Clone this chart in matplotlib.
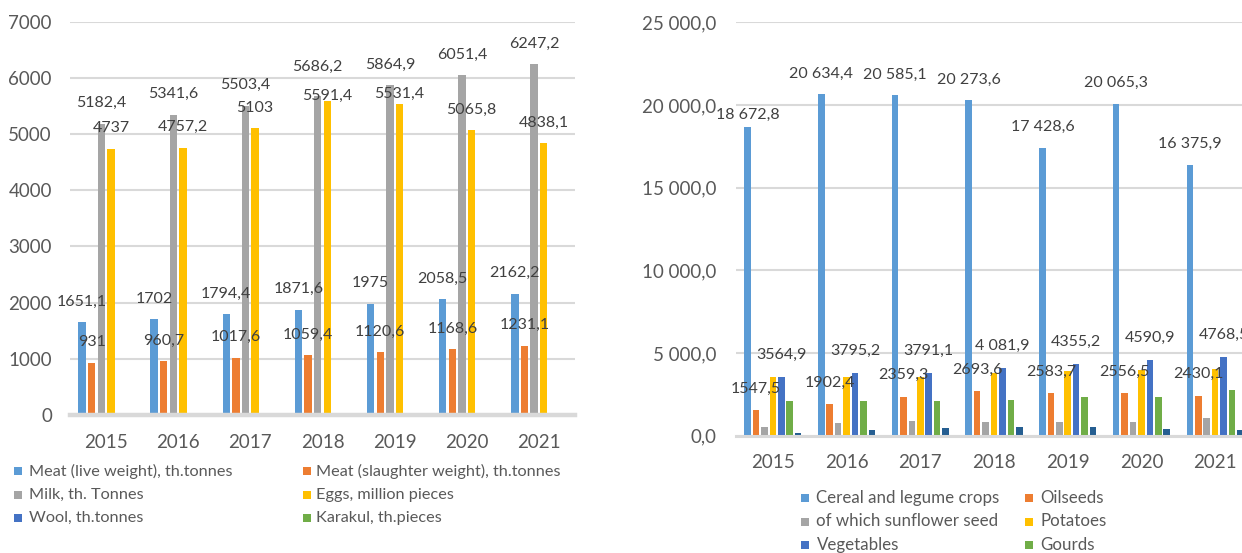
import matplotlib
matplotlib.use("Agg")
import matplotlib.pyplot as plt
from matplotlib.patches import Rectangle
import numpy as np

plt.rcParams['font.family'] = ['Lato', 'DejaVu Sans']

# ---------------- data ----------------
years = ["2015", "2016", "2017", "2018", "2019", "2020", "2021"]

# left chart (livestock)
left_names = ["Meat (live weight), th.tonnes", "Meat (slaughter weight), th.tonnes",
              "Milk, th. Tonnes", "Eggs, million pieces",
              "Wool, th.tonnes", "Karakul, th.pieces"]
meat_live = [1651.1, 1702, 1794.4, 1871.6, 1975, 2058.5, 2162.2]
meat_slaughter = [931, 960.7, 1017.6, 1059.4, 1120.6, 1168.6, 1231.1]
milk = [5182.4, 5341.6, 5503.4, 5686.2, 5864.9, 6051.4, 6247.2]
eggs = [4737, 4757.2, 5103, 5591.4, 5531.4, 5065.8, 4838.1]
wool = [38.3, 38.6, 39.0, 39.5, 40.0, 40.4, 41.4]
karakul = [20, 21, 20, 19, 19, 18, 17]
left_ticks = [0, 1000, 2000, 3000, 4000, 5000, 6000, 7000]

# right chart (crops)
right_names = ["Cereal and legume crops", "Oilseeds", "of which sunflower seed",
               "Potatoes", "Vegetables", "Gourds", "Sugar beet"]
cereal = [18672.8, 20634.4, 20585.1, 20273.6, 17428.6, 20065.3, 16375.9]
oilseeds = [1547.5, 1902.4, 2359.3, 2693.6, 2583.7, 2556.5, 2430.1]
sunflower = [530, 760, 910, 830, 830, 830, 1060]
potatoes = [3540, 3550, 3550, 3800, 3930, 4000, 4010]
vegetables = [3564.9, 3795.2, 3791.1, 4081.9, 4355.2, 4590.9, 4768.5]
gourds = [2080, 2080, 2080, 2160, 2370, 2370, 2760]
sugar_beet = [150, 350, 440, 510, 510, 430, 350]
vegetables_labels = ["3564,9", "3795,2", "3791,1", "4 081,9", "4355,2", "4590,9", "4768,5"]
right_ticks = [0, 5000, 10000, 15000, 20000, 25000]

# ---------------- style ----------------
W, H = 1242, 553
DPI = 100
c_blue = "#5B9BD5"
c_orange = "#ED7D31"
c_gray = "#A5A5A5"
c_yellow = "#FFC000"
c_dblue = "#4472C4"
c_green = "#70AD47"
c_navy = "#255E91"
grid_c = "#D9D9D9"
tick_c = "#595959"
lab_c = "#404040"


def fmt(v, group=False):
    if float(v).is_integer():
        s = f"{int(v):,}" if group else f"{int(v)}"
    else:
        s = f"{v:,.1f}" if group else f"{v:.1f}"
    return s.replace(",", " ").replace(".", ",")


def fmt1(v):
    return f"{v:,.1f}".replace(",", " ").replace(".", ",")


def px_rect(x0, y0, x1, y1):
    return [x0 / W, 1 - y1 / H, (x1 - x0) / W, (y1 - y0) / H]


fig = plt.figure(figsize=(W / DPI, H / DPI), dpi=DPI)

ax1 = fig.add_axes(px_rect(70, 21.7, 575, 415))
ax2 = fig.add_axes(px_rect(736, 22.3, 1252, 435.7))


def style_axis(ax, ticks, ticklabels, ymax, pad_y, spine_lw):
    ax.set_ylim(0, ymax)
    ax.set_xlim(-0.5, 6.5)
    ax.set_yticks(ticks)
    ax.set_yticklabels(ticklabels)
    ax.set_xticks(range(len(years)))
    ax.set_xticklabels(years)
    ax.tick_params(axis='both', length=0, labelsize=13.5, colors=tick_c)
    ax.tick_params(axis='y', pad=pad_y)
    ax.tick_params(axis='x', pad=13.5)
    for s in ["top", "right", "left"]:
        ax.spines[s].set_visible(False)
    ax.spines["bottom"].set_color(grid_c)
    ax.spines["bottom"].set_linewidth(spine_lw)
    ax.spines["bottom"].set_zorder(5)
    ax.grid(axis='y', color=grid_c, linewidth=1.5, zorder=0)
    ax.set_axisbelow(True)


def draw_group(ax, series, colors):
    n = len(series)
    slot = 0.80 / n
    width = slot * 0.77
    x = np.arange(len(years))
    conts = []
    for i, (vals, col) in enumerate(zip(series, colors)):
        off = (i - (n - 1) / 2) * slot
        conts.append(ax.bar(x + off, vals, width=width, color=col, zorder=3))
    return conts


def label_bars(ax, cont, labels, dy=15, overrides=None):
    for j, (rect, txt) in enumerate(zip(cont, labels)):
        d = dy
        if overrides and j in overrides:
            d = overrides[j]
        ax.annotate(txt, (rect.get_x() + rect.get_width() / 2, rect.get_height()),
                    xytext=(0, d), textcoords="offset points", ha="center", va="center",
                    fontsize=11.5, color=lab_c, zorder=6)


# ---- left chart ----
style_axis(ax1, left_ticks, [str(t) for t in left_ticks], 7000, 13, 3.2)
left_series = [meat_live, meat_slaughter, milk, eggs, wool, karakul]
left_colors = [c_blue, c_orange, c_gray, c_yellow, c_dblue, c_green]
lc = draw_group(ax1, left_series, left_colors)
label_bars(ax1, lc[0], [fmt(v) for v in meat_live], dy=14.8)
label_bars(ax1, lc[1], [fmt(v) for v in meat_slaughter], dy=14.8)
label_bars(ax1, lc[2], [fmt(v) for v in milk], dy=14.8, overrides={3: 20.8})
label_bars(ax1, lc[3], [fmt(v) for v in eggs], dy=14.8, overrides={3: 3.6, 4: 7.2})

# ---- right chart ----
style_axis(ax2, right_ticks, [fmt1(float(t)) for t in right_ticks], 25000, 14, 2.2)
right_series = [cereal, oilseeds, sunflower, potatoes, vegetables, gourds, sugar_beet]
right_colors = [c_blue, c_orange, c_gray, c_yellow, c_dblue, c_green, c_navy]
rc = draw_group(ax2, right_series, right_colors)
label_bars(ax2, rc[0], [fmt(v, group=True) for v in cereal], dy=15, overrides={0: 8.5})
label_bars(ax2, rc[1], [fmt(v) for v in oilseeds], dy=15.5)
label_bars(ax2, rc[4], vegetables_labels, dy=16)


# ---- legends (manual, two columns) ----
def draw_legend(names, colors, mx, tx, y0, dy, fs):
    for i, (nm, col) in enumerate(zip(names, colors)):
        r, c = divmod(i, 2)
        y = y0 + r * dy
        s = 8
        fig.patches.append(Rectangle(((mx[c]) / W, 1 - (y + s / 2) / H), s / W, s / H,
                                     transform=fig.transFigure, facecolor=col,
                                     edgecolor='none'))
        fig.text(tx[c] / W, 1 - y / H, nm, ha="left", va="center",
                 fontsize=fs, color=tick_c)


draw_legend(left_names, left_colors, [14, 303], [29, 316.5], 471, 23.5, 11.7)
draw_legend(right_names, right_colors, [801, 1025], [816.5, 1040], 498, 23.5, 12.2)

fig.savefig("out.png", dpi=DPI)
